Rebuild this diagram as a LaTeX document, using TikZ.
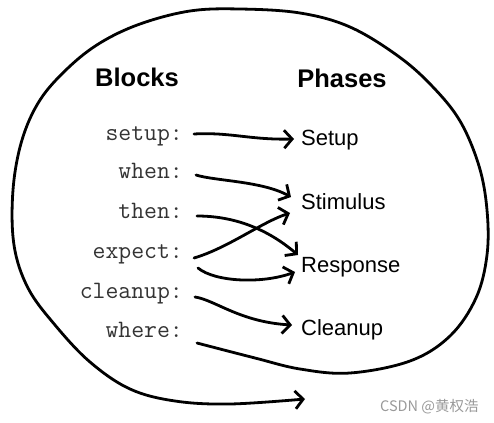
\documentclass[tikz,border=0pt]{standalone}
\usepackage{fontspec}
\setmainfont{Liberation Sans}
\newfontfamily\cjk{Noto Sans CJK SC}
\usetikzlibrary{arrows.meta,calc}
\tikzset{
  hand/.style={line width=2.8pt, line cap=round, line join=round,
    -{Straight Barb[length=8pt,width=18pt,line width=2.8pt]}},
  title/.style={font=\fontsize{25.5}{30}\selectfont\bfseries, inner sep=0pt},
  blocklbl/.style={font=\fontsize{25}{28}\ttfamily, text=black!80, inner sep=0pt, anchor=base east},
  phaselbl/.style={font=\fontsize{22}{26}\selectfont, inner sep=0pt, anchor=base west},
  wmark/.style={font=\cjk\fontsize{14.5}{16}\selectfont, text=black!40, inner sep=0pt, anchor=base west}
}
\begin{document}
\begin{tikzpicture}[x=1pt,y=-1pt]
\useasboundingbox (0,0) rectangle (494,422);
% titles
\node[title, anchor=base] (blocks) at (137,87) {Blocks};
\node[title, anchor=base] (phases) at (342,88) {Phases};
% block labels
\node[blocklbl] (bsetup) at (183,140) {setup:};
\node[blocklbl] (bwhen) at (183,178) {when:};
\node[blocklbl] (bthen) at (183,218) {then:};
\node[blocklbl] (bexpect) at (183,258) {expect:};
\node[blocklbl] (bcleanup) at (183,298) {cleanup:};
\node[blocklbl] (bwhere) at (183,337) {where:};
% phase labels
\node[phaselbl] (psetup) at (301,146) {Setup};
\node[phaselbl] (pstim) at (301,209) {Stimulus};
\node[phaselbl] (presp) at (301,272) {Response};
\node[phaselbl] (pclean) at (301,335) {Cleanup};
% anchor points
\coordinate (s1) at ($(bsetup.base east)+(11,-6)$);
\coordinate (t1) at ($(psetup.base west)+(-7,-7)$);
\coordinate (s2) at ($(bwhen.base east)+(13,-3)$);
\coordinate (t2) at ($(pstim.base west)+(-10,-12)$);
\coordinate (s3) at ($(bthen.base east)+(14,-2)$);
\coordinate (t3) at ($(presp.base west)+(-3,-17)$);
\coordinate (s4) at ($(bexpect.base east)+(11,0)$);
\coordinate (t4) at ($(pstim.base west)+(-11,4)$);
\coordinate (s5) at ($(bexpect.base east)+(15,10)$);
\coordinate (t5) at ($(presp.base west)+(-6,0)$);
\coordinate (s6) at ($(bcleanup.base east)+(12,-1)$);
\coordinate (t6) at ($(pclean.base west)+(-9,-10)$);
\coordinate (s7) at ($(bwhere.base east)+(14,6)$);
\coordinate (t7) at (305,399);
% arrows
\draw[hand] (s1) .. controls (230,132) and (250,140) .. (t1);
\draw[hand] (s2) .. controls (215,181) and (262,181) .. (t2);
\draw[hand] (s3) .. controls (240,216) and (272,233) .. (t3);
\draw[hand] (s4) .. controls (228,248) and (262,222) .. (t4);
\draw[hand] (s5) .. controls (215,282) and (262,284) .. (t5);
\draw[hand] (s6) .. controls (215,300) and (240,322) .. (t6);
% big loop from where:
\draw[hand] plot[smooth, tension=0.6] coordinates {
  (s7) (255,358) (300,369) (350,373) (410,361) (450,336)
  (476,298) (487,255) (487,210) (479,166) (460,121) (432,86) (398,56)
  (350,27) (300,13) (240,9) (190,11) (140,24) (100,43) (68,68)
  (40,100) (22,140) (13,190) (14,245) (28,288) (55,325)
  (90,362) (130,389) (175,401) (230,404) (t7)};
% watermark
\node[wmark] (wm) at (380,411) {CSDN @黄权浩};
\end{tikzpicture}
\end{document}
